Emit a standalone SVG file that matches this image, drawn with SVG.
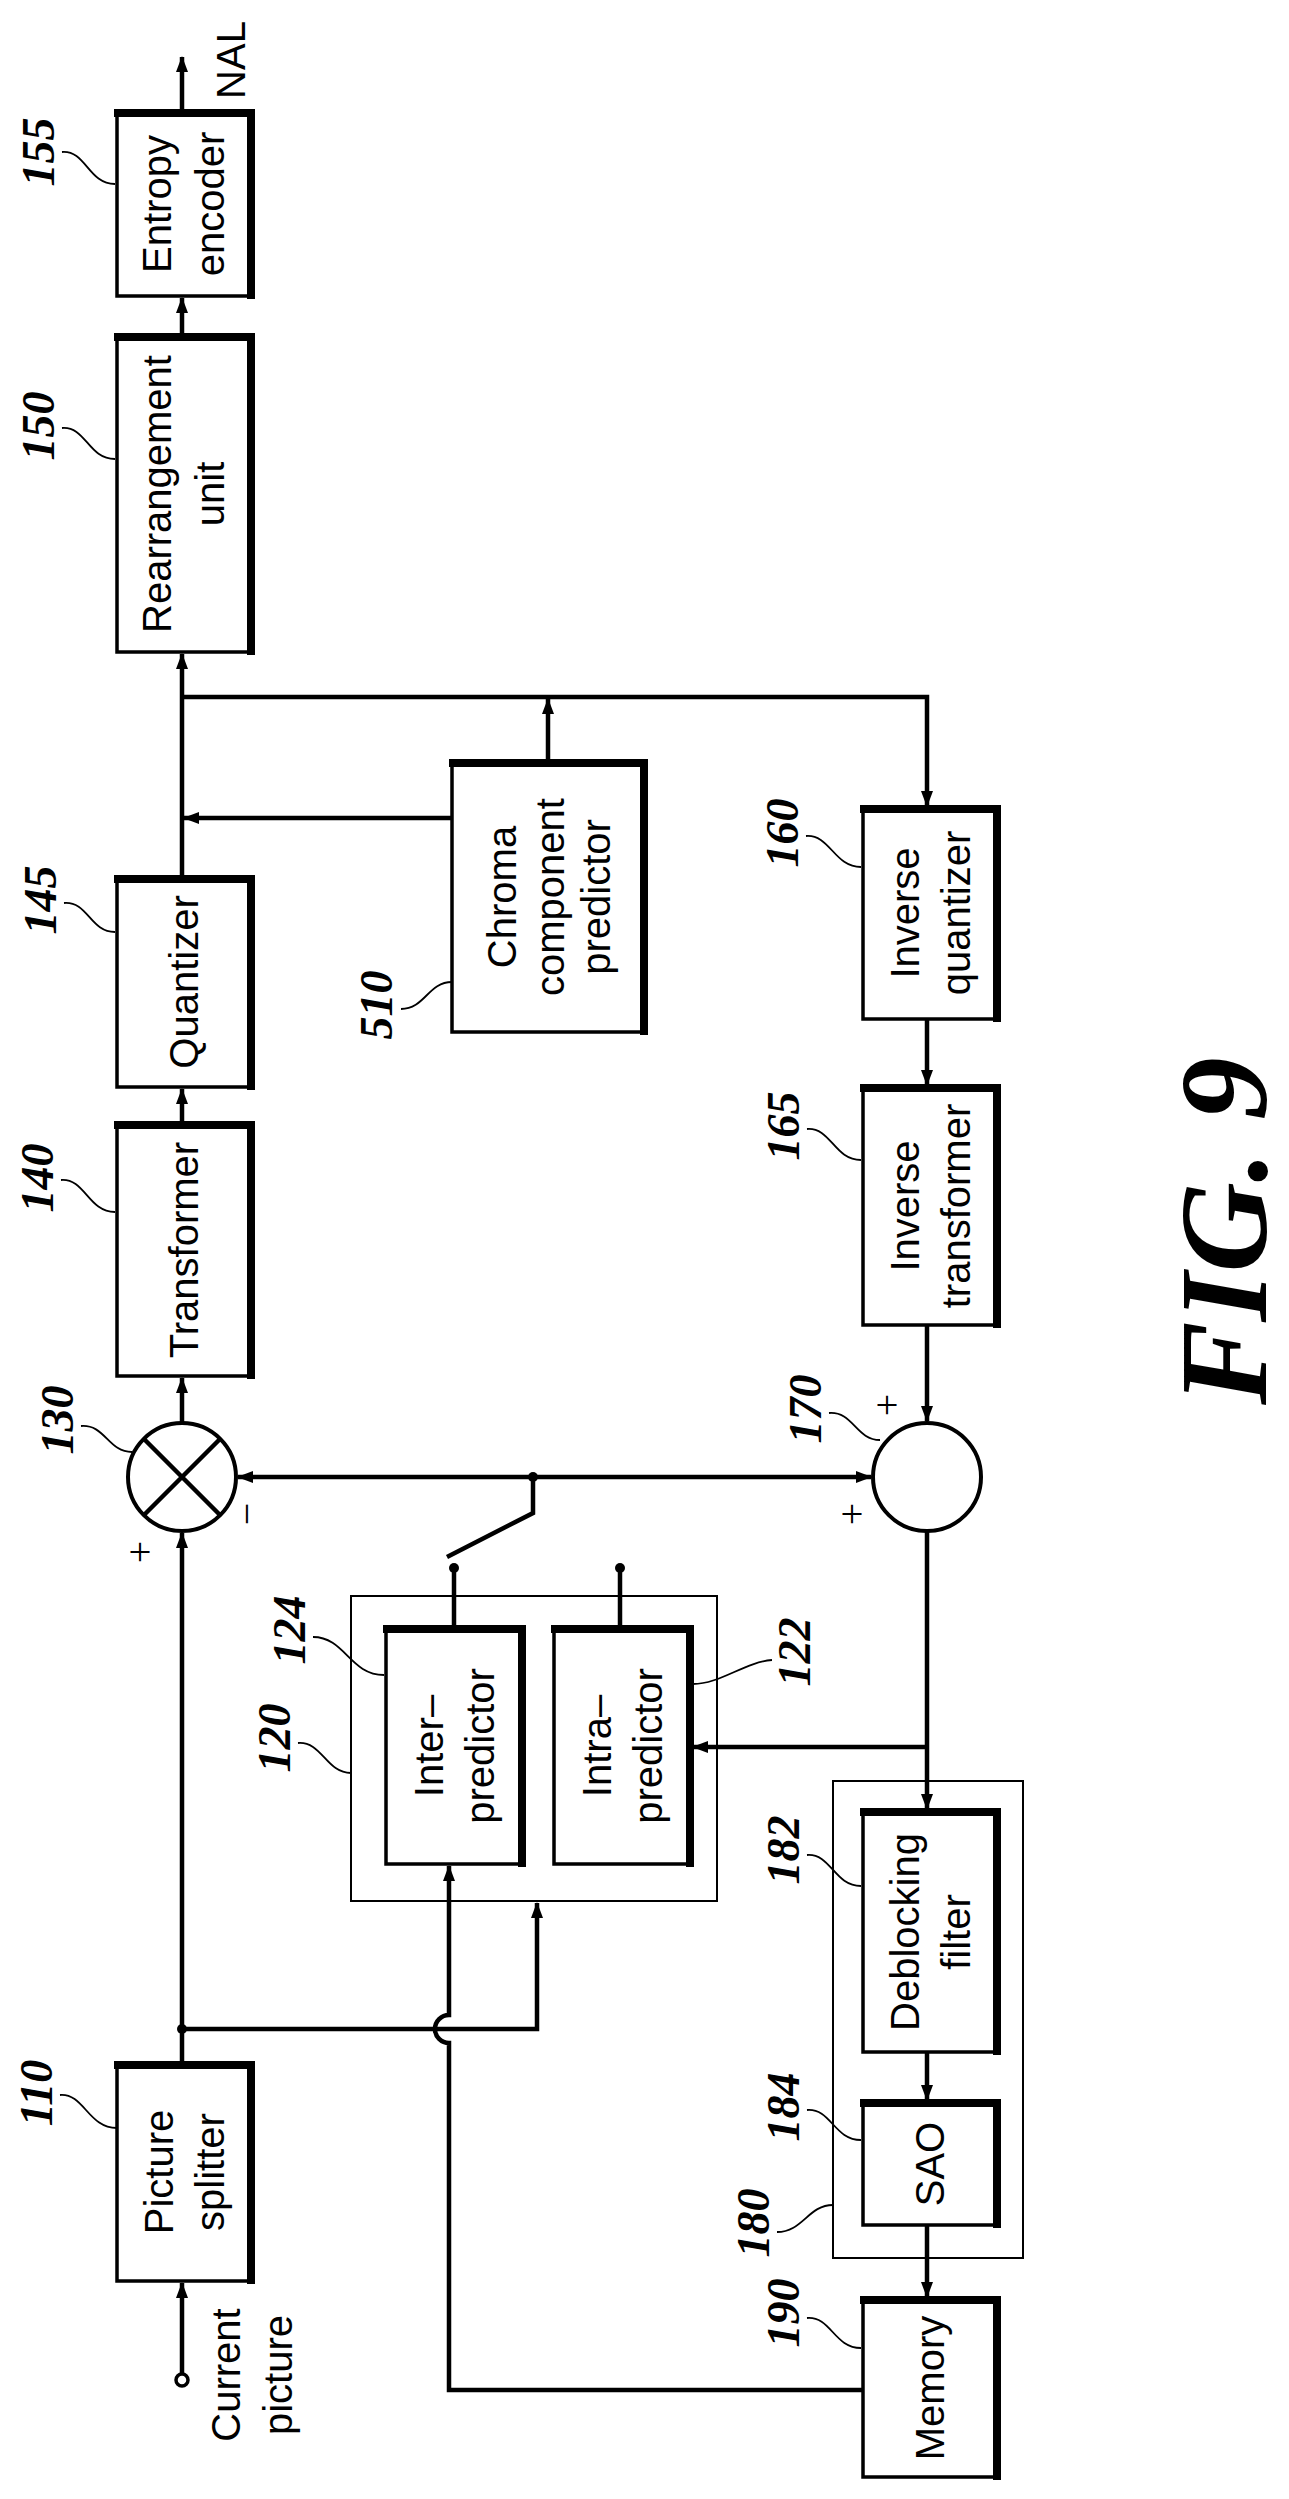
<svg xmlns="http://www.w3.org/2000/svg" width="1289" height="2499" viewBox="0 0 1289 2499">
<style>
.bx{fill:#fff;stroke:#000;stroke-width:3.5}
.sh{fill:none;stroke:#000;stroke-width:8;stroke-linecap:square}
.gp{fill:none;stroke:#000;stroke-width:2}
.ln{fill:none;stroke:#000;stroke-width:4.5}
.ld{fill:none;stroke:#000;stroke-width:1.8}
.t{font-family:"Liberation Sans",Arial,sans-serif;font-size:40px;text-anchor:middle;fill:#000}
.n{font-family:"Liberation Serif","Times New Roman",serif;font-size:46px;font-weight:bold;font-style:italic;text-anchor:middle;fill:#000}
.s{font-family:"Liberation Serif",serif;font-size:40px;text-anchor:middle;fill:#000}
</style>
<defs>
<marker id="a" markerUnits="userSpaceOnUse" markerWidth="16" markerHeight="12" refX="15" refY="6" orient="auto"><path d="M0,0 L16,6 L0,12 z"/></marker>
</defs>
<g id="connectors">
<path class="ln" d="M182,112 V57" marker-end="url(#a)"/>
<path class="ln" d="M182,336 V298" marker-end="url(#a)"/>
<path class="ln" d="M182,878 V654" marker-end="url(#a)"/>
<path class="ln" d="M182,1124 V1089" marker-end="url(#a)"/>
<path class="ln" d="M182,1423 V1378" marker-end="url(#a)"/>
<path class="ln" d="M182,697 H927 V806" marker-end="url(#a)"/>
<path class="ln" d="M548,762 V699" marker-end="url(#a)"/>
<path class="ln" d="M452,818 H184" marker-end="url(#a)"/>
<path class="ln" d="M533,1477 H238" marker-end="url(#a)"/>
<path class="ln" d="M533,1477 H871" marker-end="url(#a)"/>
<circle cx="533" cy="1477" r="5"/>
<path class="ln" d="M533,1477 V1513 L447,1557"/>
<circle cx="454" cy="1568" r="5"/>
<path class="ln" d="M454,1568 V1628"/>
<circle cx="620" cy="1568" r="5"/>
<path class="ln" d="M620,1568 V1628"/>
<path class="ln" d="M927,1019 V1085" marker-end="url(#a)"/>
<path class="ln" d="M927,1325 V1421" marker-end="url(#a)"/>
<path class="ln" d="M927,1531 V1809" marker-end="url(#a)"/>
<path class="ln" d="M927,1747 H693" marker-end="url(#a)"/>
<path class="ln" d="M927,2052 V2100" marker-end="url(#a)"/>
<path class="ln" d="M927,2225 V2297" marker-end="url(#a)"/>
<path class="ln" d="M182,2064 V1533" marker-end="url(#a)"/>
<circle cx="182" cy="2029" r="5"/>
<path class="ln" d="M182,2029 H537 V1903" marker-end="url(#a)"/>
<path class="ln" d="M863,2390 H449 V2043 A14,14 0 0 1 449,2015 V1866" marker-end="url(#a)"/>
<circle cx="182" cy="2380" r="6" fill="#fff" stroke="#000" stroke-width="3.5"/>
<path class="ln" d="M182,2374 V2283" marker-end="url(#a)"/>
</g>
<g id="g120"><rect class="gp" x="351" y="1596" width="366" height="305"/></g>
<g id="g180"><rect class="gp" x="833" y="1781" width="190" height="477"/></g>
<g id="n155"><rect class="bx" x="117" y="112" width="135" height="184"/><path class="sh" d="M118,113 H251 V295"/>
<text class="t" transform="translate(184,204) rotate(-90)"><tspan x="0" y="-13">Entropy</tspan><tspan x="0" y="40">encoder</tspan></text></g>
<g id="n150"><rect class="bx" x="117" y="336" width="135" height="316"/><path class="sh" d="M118,337 H251 V651"/>
<text class="t" transform="translate(184,494) rotate(-90)"><tspan x="0" y="-13">Rearrangement</tspan><tspan x="0" y="40">unit</tspan></text></g>
<g id="n145"><rect class="bx" x="117" y="878" width="135" height="209"/><path class="sh" d="M118,879 H251 V1086"/>
<text class="t" transform="translate(184,982) rotate(-90)"><tspan x="0" y="14">Quantizer</tspan></text></g>
<g id="n140"><rect class="bx" x="117" y="1124" width="135" height="252"/><path class="sh" d="M118,1125 H251 V1375"/>
<text class="t" transform="translate(184,1250) rotate(-90)"><tspan x="0" y="14">Transformer</tspan></text></g>
<g id="n510"><rect class="bx" x="452" y="762" width="193" height="270"/><path class="sh" d="M453,763 H644 V1031"/>
<text class="t" transform="translate(548,897) rotate(-90)"><tspan x="0" y="-32">Chroma</tspan><tspan x="0" y="16">component</tspan><tspan x="0" y="62">predictor</tspan></text></g>
<g id="n160"><rect class="bx" x="863" y="808" width="135" height="211"/><path class="sh" d="M864,809 H997 V1018"/>
<text class="t" transform="translate(930,913) rotate(-90)"><tspan x="0" y="-11">Inverse</tspan><tspan x="0" y="40">quantizer</tspan></text></g>
<g id="n165"><rect class="bx" x="863" y="1087" width="135" height="238"/><path class="sh" d="M864,1088 H997 V1324"/>
<text class="t" transform="translate(930,1206) rotate(-90)"><tspan x="0" y="-11">Inverse</tspan><tspan x="0" y="40">transformer</tspan></text></g>
<g id="n130"><circle cx="182" cy="1477" r="54" fill="#fff" stroke="#000" stroke-width="4"/><path class="ln" d="M144,1439 L220,1515 M220,1439 L144,1515"/></g>
<g id="n170"><circle cx="927" cy="1477" r="54" fill="#fff" stroke="#000" stroke-width="4"/></g>
<g id="n124"><rect class="bx" x="386" y="1628" width="137" height="236"/><path class="sh" d="M387,1629 H522 V1863"/>
<text class="t" transform="translate(454,1746) rotate(-90)"><tspan x="0" y="-11">Inter–</tspan><tspan x="0" y="40">predictor</tspan></text></g>
<g id="n122"><rect class="bx" x="554" y="1628" width="137" height="236"/><path class="sh" d="M555,1629 H690 V1863"/>
<text class="t" transform="translate(622,1746) rotate(-90)"><tspan x="0" y="-11">Intra–</tspan><tspan x="0" y="40">predictor</tspan></text></g>
<g id="n182"><rect class="bx" x="863" y="1811" width="135" height="241"/><path class="sh" d="M864,1812 H997 V2051"/>
<text class="t" transform="translate(930,1932) rotate(-90)"><tspan x="0" y="-11">Deblocking</tspan><tspan x="0" y="40">filter</tspan></text></g>
<g id="n184"><rect class="bx" x="863" y="2102" width="135" height="123"/><path class="sh" d="M864,2103 H997 V2224"/>
<text class="t" transform="translate(930,2164) rotate(-90)"><tspan x="0" y="14">SAO</tspan></text></g>
<g id="n190"><rect class="bx" x="863" y="2299" width="135" height="178"/><path class="sh" d="M864,2300 H997 V2476"/>
<text class="t" transform="translate(930,2388) rotate(-90)"><tspan x="0" y="14">Memory</tspan></text></g>
<g id="n110"><rect class="bx" x="117" y="2064" width="135" height="217"/><path class="sh" d="M118,2065 H251 V2280"/>
<text class="t" transform="translate(184,2172) rotate(-90)"><tspan x="0" y="-11">Picture</tspan><tspan x="0" y="40">splitter</tspan></text></g>
<g id="labels">
<text class="t" transform="translate(252,2375) rotate(-90)"><tspan x="0" y="-12">Current</tspan><tspan x="0" y="40">picture</tspan></text>
<text class="t" transform="translate(232,60) rotate(-90)" y="13">NAL</text>
<text class="n" transform="translate(39,152) rotate(-90)" y="15">155</text>
<path class="ld" d="M62,152 C86,150 88,184 115,184"/>
<text class="n" transform="translate(39,426) rotate(-90)" y="15">150</text>
<path class="ld" d="M62,428 C86,426 88,459 115,459"/>
<text class="n" transform="translate(41,900) rotate(-90)" y="15">145</text>
<path class="ld" d="M64,903 C88,901 90,932 115,932"/>
<text class="n" transform="translate(38,1178) rotate(-90)" y="15">140</text>
<path class="ld" d="M61,1180 C85,1178 88,1212 115,1212"/>
<text class="n" transform="translate(58,1420) rotate(-90)" y="15">130</text>
<path class="ld" d="M81,1426 C105,1424 108,1452 132,1452"/>
<text class="n" transform="translate(377,1005) rotate(-90)" y="15">510</text>
<path class="ld" d="M401,1009 C425,1009 428,982 452,982"/>
<text class="n" transform="translate(783,833) rotate(-90)" y="15">160</text>
<path class="ld" d="M806,836 C830,834 834,867 861,867"/>
<text class="n" transform="translate(784,1126) rotate(-90)" y="15">165</text>
<path class="ld" d="M807,1129 C831,1127 834,1160 861,1160"/>
<text class="n" transform="translate(806,1409) rotate(-90)" y="15">170</text>
<path class="ld" d="M829,1413 C853,1411 856,1440 880,1440"/>
<text class="s" transform="translate(887,1405) rotate(-90)" y="13">+</text>
<text class="s" transform="translate(852,1514) rotate(-90)" y="13">+</text>
<text class="s" transform="translate(140,1552) rotate(-90)" y="13">+</text>
<text class="s" transform="translate(247,1514) rotate(-90)" y="13">−</text>
<text class="n" transform="translate(290,1630) rotate(-90)" y="15">124</text>
<path class="ld" d="M313,1637 C345,1637 350,1675 384,1675"/>
<text class="n" transform="translate(275,1738) rotate(-90)" y="15">120</text>
<path class="ld" d="M298,1743 C322,1741 326,1773 351,1773"/>
<text class="n" transform="translate(795,1652) rotate(-90)" y="15">122</text>
<path class="ld" d="M772,1660 C745,1662 720,1684 693,1684"/>
<text class="n" transform="translate(784,1850) rotate(-90)" y="15">182</text>
<path class="ld" d="M807,1855 C831,1853 834,1886 861,1886"/>
<text class="n" transform="translate(784,2107) rotate(-90)" y="15">184</text>
<path class="ld" d="M807,2110 C831,2108 834,2140 861,2140"/>
<text class="n" transform="translate(754,2223) rotate(-90)" y="15">180</text>
<path class="ld" d="M777,2232 C803,2232 808,2205 833,2205"/>
<text class="n" transform="translate(784,2313) rotate(-90)" y="15">190</text>
<path class="ld" d="M807,2318 C831,2316 834,2348 861,2348"/>
<text class="n" transform="translate(37,2093) rotate(-90)" y="15">110</text>
<path class="ld" d="M60,2095 C84,2093 88,2128 117,2128"/>
<text transform="translate(1222,1231) rotate(-90)" y="44" text-anchor="middle" font-family="Liberation Serif,serif" font-weight="bold" font-style="italic" font-size="125">FIG. 9</text>
</g>
</svg>
